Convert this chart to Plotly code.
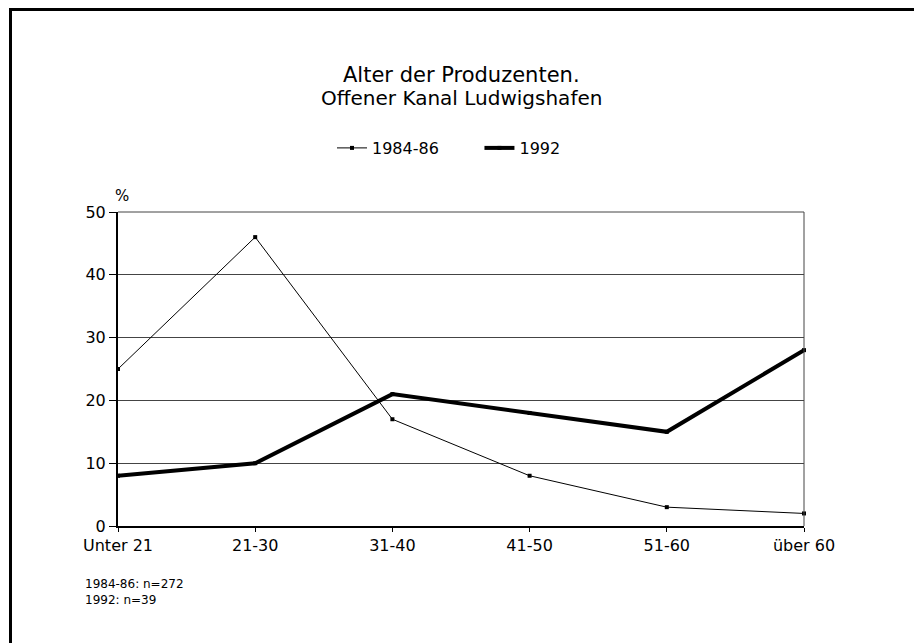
import plotly.graph_objects as go

categories = ["Unter 21", "21-30", "31-40", "41-50", "51-60", "über 60"]
series_1984 = [25, 46, 17, 8, 3, 2]
series_1992 = [8, 10, 21, 18, 15, 28]
y_ticks = [0, 10, 20, 30, 40, 50]

FONT = "DejaVu Sans"
NB = "\u00a0"

# page has an 8px body margin; figure size compensates for it
W, H = 914, 635
OFF = 8
PL, PR, PT, PB = 118, 804, 212, 526  # plot area in page pixels


def px(x):
    return (x - PL) / (PR - PL)


def py(y):
    return (PB - y) / (PB - PT)


fig = go.Figure()
fig.add_trace(go.Scatter(
    x=list(range(len(categories))), y=series_1984, name="1984-86" + NB * 7,
    mode="lines+markers", line=dict(color="black", width=1),
    marker=dict(symbol="square", size=4, color="black"),
    cliponaxis=False,
))
fig.add_trace(go.Scatter(
    x=list(range(len(categories))), y=series_1992, name="1992",
    mode="lines+markers", line=dict(color="black", width=4),
    marker=dict(symbol="square", size=4, color="black"),
    cliponaxis=False,
))

fig.update_layout(
    width=W, height=H,
    margin=dict(l=PL - OFF, r=W + OFF - PR, t=PT - OFF, b=H + OFF - PB),
    paper_bgcolor="white", plot_bgcolor="white",
    font=dict(family=FONT, color="black", size=16),
    showlegend=True,
    legend=dict(orientation="h", x=px(449), xanchor="center", y=py(148), yanchor="middle",
                font=dict(size=16, family=FONT), tracegroupgap=0,
                bgcolor="rgba(0,0,0,0)"),
)
fig.update_xaxes(
    range=[0, len(categories) - 1], tickmode="array",
    tickvals=list(range(len(categories))), ticktext=categories,
    showgrid=False, zeroline=False, showline=True, linecolor="black", linewidth=2,
    ticks="outside", ticklen=4, tickcolor="black", tickwidth=1,
    tickfont=dict(size=16, family=FONT),
)
fig.update_yaxes(
    range=[0, 50], tickmode="array", tickvals=y_ticks,
    showgrid=True, gridcolor="#444", gridwidth=1, zeroline=False,
    showline=True, linecolor="black", linewidth=2,
    ticks="outside", ticklen=7, tickcolor="black", tickwidth=1,
    tickfont=dict(size=16, family=FONT),
)

# right border and top line of plot area
fig.add_shape(type="line", xref="paper", yref="paper", x0=1, x1=1, y0=0, y1=1,
              line=dict(color="#444", width=1))
fig.add_shape(type="line", xref="paper", yref="paper", x0=0, x1=1, y0=1, y1=1,
              line=dict(color="#444", width=1))
# outer frame (extends beyond right/bottom edges)
fig.add_shape(type="rect", xref="paper", yref="paper",
              x0=px(10.5), x1=2, y0=-2, y1=py(9.5),
              line=dict(color="black", width=3), fillcolor="rgba(0,0,0,0)", layer="below")

fig.add_annotation(text="Alter der Produzenten.", xref="paper", yref="paper",
                   x=px(461), y=py(75), showarrow=False, xanchor="center", yanchor="middle",
                   font=dict(size=21, family=FONT))
fig.add_annotation(text="Offener Kanal Ludwigshafen", xref="paper", yref="paper",
                   x=px(461), y=py(98), showarrow=False, xanchor="center", yanchor="middle",
                   font=dict(size=20, family=FONT))
fig.add_annotation(text="%", xref="paper", yref="paper", x=px(122),
                   y=py(196), showarrow=False, xanchor="center", yanchor="middle",
                   font=dict(size=15, family=FONT))
fig.add_annotation(text="1984-86: n=272<br>1992: n=39", xref="paper", yref="paper",
                   x=px(83), y=py(592), showarrow=False,
                   xanchor="left", yanchor="middle", align="left",
                   font=dict(size=12, family=FONT))

fig.write_html("out.html")
